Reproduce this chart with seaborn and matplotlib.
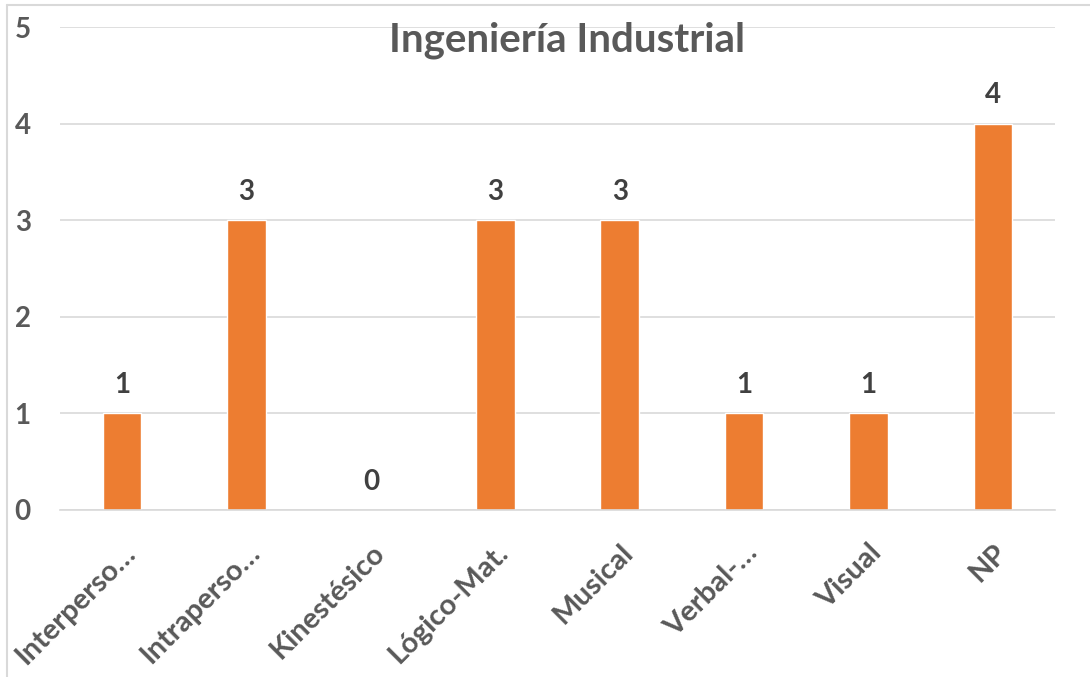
import matplotlib
matplotlib.use("Agg")
import matplotlib.pyplot as plt
import seaborn as sns
import pandas as pd
from matplotlib.lines import Line2D

categories = ["Interperso…", "Intraperso…", "Kinestésico", "Lógico-Mat.", "Musical", "Verbal-…", "Visual", "NP"]
values = [1, 3, 0, 3, 3, 1, 1, 4]
yticks = [0, 1, 2, 3, 4, 5]
title = "Ingeniería Industrial"

sns.set_theme(style="white")
plt.rcParams['font.family'] = ['Lato', 'DejaVu Sans']

df = pd.DataFrame({"cat": categories, "val": values})
fig = plt.figure(figsize=(10.9, 6.77), dpi=100)
ax = fig.add_axes([0.055, 0.2467, 0.913, 0.7133])
sns.barplot(data=df, x="cat", y="val", color="#ED7D31", width=0.31, saturation=1, ax=ax)

ax.set_ylim(0, 5)
ax.set_xlim(-0.5, len(categories) - 0.5)
ax.set_yticks(yticks)
ax.set_yticklabels([str(t) for t in yticks], fontsize=20, fontweight="bold", color="#595959")
ax.yaxis.grid(True, color="#d9d9d9", linewidth=1.2)
ax.set_axisbelow(True)
for s in ["top", "right", "left"]:
    ax.spines[s].set_visible(False)
ax.spines["bottom"].set_color("#d9d9d9")
ax.spines["bottom"].set_linewidth(1.2)
ax.tick_params(axis="y", length=0, pad=21)
ax.tick_params(axis="x", length=0, pad=21)
ax.set_xticks(range(len(categories)))
ax.set_xticklabels(categories, rotation=45, ha="right", rotation_mode="anchor",
                   fontsize=21, fontweight="bold", color="#595959")
ax.set_xlabel("")
ax.set_ylabel("")

for i, v in enumerate(values):
    ax.annotate(str(v), (i, v), xytext=(0, 11), textcoords="offset points",
                ha="center", va="bottom", fontsize=20, fontweight="bold", color="#404040")

fig.text(0.52, 0.94, title, ha="center", va="center", fontsize=29, fontweight="bold", color="#595959")

fig.add_artist(Line2D([0.0064, 1.0], [0.9926, 0.9926], transform=fig.transFigure, color="#d9d9d9", linewidth=1.5))
fig.add_artist(Line2D([0.0064, 0.0064], [0.0, 0.9926], transform=fig.transFigure, color="#d9d9d9", linewidth=1.5))

fig.savefig("out.png", dpi=100, facecolor="white")
